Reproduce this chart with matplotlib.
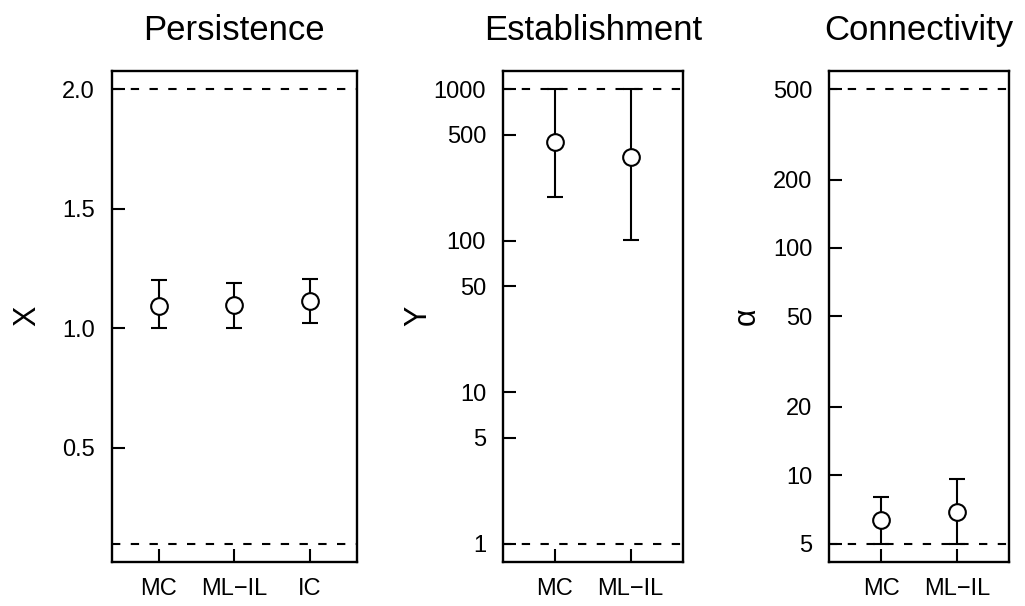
import matplotlib
matplotlib.use("Agg")
import matplotlib.pyplot as plt
import numpy as np

plt.rcParams["font.family"] = ["Liberation Sans", "DejaVu Sans"]

# Persistence panel (linear y)
persist_methods = ["MC", "ML\u2212IL", "IC"]
persist_mean = [1.095, 1.099, 1.115]
persist_lo = [1.0, 1.0, 1.021]
persist_hi = [1.200, 1.190, 1.205]
persist_bounds = [0.1, 2.0]
persist_ticks = [0.5, 1.0, 1.5, 2.0]
persist_ticklabels = ["0.5", "1.0", "1.5", "2.0"]

# Establishment panel (log y)
estab_methods = ["MC", "ML\u2212IL"]
estab_mean = [446, 359]
estab_lo = [193, 101]
estab_hi = [1000, 1000]
estab_bounds = [1, 1000]
estab_ticks = [1, 5, 10, 50, 100, 500, 1000]

# Connectivity panel (log y)
conn_methods = ["MC", "ML\u2212IL"]
conn_mean = [6.33, 6.9]
conn_lo = [5, 5]
conn_hi = [8.0, 9.6]
conn_bounds = [5, 500]
conn_ticks = [5, 10, 20, 50, 100, 200, 500]

TICK_FS = 17
LABEL_FS = 22
TITLE_FS = 25
LW = 1.5


def pad_lim(lo, hi, frac=0.04):
    """R-style 4% axis extension."""
    d = (hi - lo) * frac
    return lo - d, hi + d


def draw_panel(ax, methods, mean, lo, hi, bounds, title, log=False,
               ticks=None, ticklabels=None, xlim=None):
    x = np.arange(1, len(methods) + 1)
    mean = np.asarray(mean, dtype=float)
    yerr = [mean - np.asarray(lo), np.asarray(hi) - mean]
    for b in bounds:
        ax.axhline(b, color="black", lw=LW, ls=(0, (4.0, 5.0)), zorder=1)
    ax.errorbar(x, mean, yerr=yerr, fmt="o", color="black", mfc="white",
                mec="black", ms=12, mew=LW, elinewidth=LW, capsize=6,
                capthick=LW, zorder=3)
    if log:
        ax.set_yscale("log")
        a, b = pad_lim(np.log10(bounds[0]), np.log10(bounds[1]))
        ax.set_ylim(10 ** a, 10 ** b)
        ax.minorticks_off()
    else:
        ax.set_ylim(*pad_lim(bounds[0], bounds[1]))
    ax.set_yticks(ticks)
    ax.set_yticklabels(ticklabels if ticklabels else [str(t) for t in ticks])
    ax.set_xlim(*xlim)
    ax.set_xticks(x)
    ax.set_xticklabels(methods)
    ax.tick_params(direction="in", length=9.4, width=LW, labelsize=TICK_FS,
                   pad=12)
    for s in ax.spines.values():
        s.set_linewidth(1.7)
    ax.set_title(title, fontsize=TITLE_FS, pad=22)


fig = plt.figure(figsize=(10.25, 6.06), dpi=100)
W, H = 1025, 606
top, bottom = 71, 561.7
ax1 = fig.add_axes([111.7 / W, (H - bottom) / H, 245 / W, (bottom - top) / H])
ax2 = fig.add_axes([502.7 / W, (H - bottom) / H, 180 / W, (bottom - top) / H])
ax3 = fig.add_axes([829 / W, (H - bottom) / H, 180.3 / W, (bottom - top) / H])

draw_panel(ax1, persist_methods, persist_mean, persist_lo, persist_hi,
           persist_bounds, "Persistence", ticks=persist_ticks,
           ticklabels=persist_ticklabels, xlim=pad_lim(0.5, 3.5))
draw_panel(ax2, estab_methods, estab_mean, estab_lo, estab_hi, estab_bounds,
           "Establishment", log=True, ticks=estab_ticks,
           xlim=pad_lim(0.4, 2.6))
draw_panel(ax3, conn_methods, conn_mean, conn_lo, conn_hi, conn_bounds,
           "Connectivity", log=True, ticks=conn_ticks,
           xlim=pad_lim(0.4, 2.6))

# y-axis labels placed at fixed pixel positions, like the R layout
ylab_y = 1 - 316 / H
fig.text(27 / W, ylab_y, "X", rotation=90, ha="center", va="center",
         fontsize=LABEL_FS)
fig.text(418 / W, ylab_y, "Y", rotation=90, ha="center", va="center",
         fontsize=LABEL_FS)
fig.text(747 / W, ylab_y, "\u03b1", rotation=90, ha="center", va="center",
         fontsize=LABEL_FS)

fig.savefig("out.png", dpi=100)
